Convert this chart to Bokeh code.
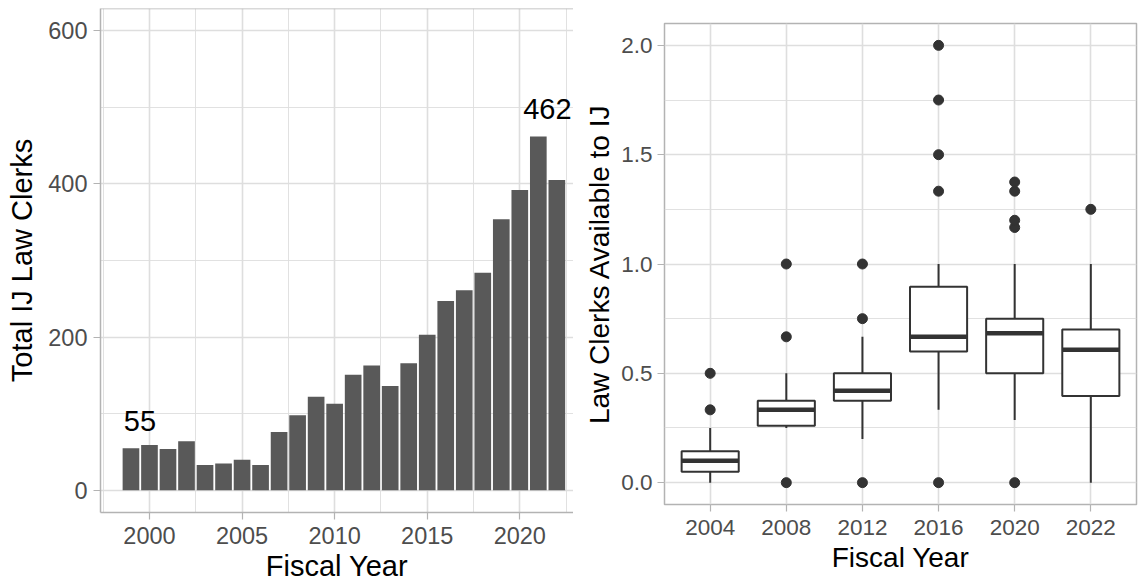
from bokeh.plotting import figure
from bokeh.layouts import row
from bokeh.models import Range1d, FixedTicker, Span
from bokeh.embed import file_html
from bokeh.resources import INLINE
from bokeh.core.properties import value

# Total immigration-judge law clerks per fiscal year
fiscal_years = list(range(1999, 2023))
total_clerks = [55, 59, 54, 64, 33, 35, 40, 33, 76, 98, 122, 113,
                151, 163, 136, 166, 203, 247, 261, 284, 354, 392, 462, 405]
labelled_years = [1999, 2021]

# Law clerks available to each IJ, summarised per fiscal year
box_years = ["2004", "2008", "2012", "2016", "2020", "2022"]
whisker_low = [0.0, 0.25, 0.2, 0.333, 0.286, 0.0]
q1 = [0.05, 0.26, 0.375, 0.6, 0.5, 0.396]
median = [0.1, 0.333, 0.42, 0.667, 0.683, 0.608]
q3 = [0.143, 0.375, 0.5, 0.896, 0.75, 0.7]
whisker_high = [0.25, 0.5, 0.667, 1.0, 1.0, 1.0]
outlier_years = ["2004", "2004",
                 "2008", "2008", "2008",
                 "2012", "2012", "2012",
                 "2016", "2016", "2016", "2016", "2016",
                 "2020", "2020", "2020", "2020", "2020",
                 "2022"]
outlier_values = [0.333, 0.5,
                  0.0, 0.667, 1.0,
                  0.0, 0.75, 1.0,
                  0.0, 1.333, 1.5, 1.75, 2.0,
                  0.0, 1.167, 1.2, 1.333, 1.375,
                  1.25]

FONT = "Liberation Sans"
GRID = "#dedede"
BORDER = "#b3b3b3"
TICK_TEXT = "#4d4d4d"
INK = "#333333"


def style_axes(fig, title_size, tick_size):
    for ax in fig.xaxis + fig.yaxis:
        ax.major_label_text_font = FONT
        ax.major_label_text_font_size = tick_size
        ax.major_label_text_color = TICK_TEXT
        ax.axis_label_text_font = FONT
        ax.axis_label_text_font_size = title_size
        ax.axis_label_text_font_style = "normal"
        ax.axis_label_text_color = "black"
        ax.major_tick_line_color = BORDER
        ax.major_tick_line_width = 1.2
        ax.major_tick_out = 7
        ax.major_tick_in = 0
        ax.minor_tick_line_color = None
    fig.grid.grid_line_color = GRID
    fig.grid.grid_line_width = 1.6
    fig.grid.minor_grid_line_color = GRID
    fig.grid.minor_grid_line_width = 0.9
    fig.background_fill_color = "white"
    fig.border_fill_color = "white"


# ---- left panel: bar chart of total clerks
left_y = Range1d(-29, 629)
left = figure(width=573, height=584,
              x_range=Range1d(1997.355, 2022.9), y_range=left_y,
              output_backend="svg", toolbar_location=None,
              min_border_left=100, min_border_right=0,
              min_border_top=8, min_border_bottom=70)
left.frame_align = False
left.outline_line_color = None

left.vbar(x=fiscal_years, top=total_clerks, width=0.9,
          fill_color="#595959", line_color=None)

label_values = [total_clerks[fiscal_years.index(y)] for y in labelled_years]
left.text(x=labelled_years, y=label_values, text=[str(v) for v in label_values],
          text_font=value(FONT), text_font_size="29px", text_color="black",
          text_align="center", text_baseline="alphabetic",
          x_offset=9, y_offset=-27)

left.xaxis.ticker = FixedTicker(ticks=[2000, 2005, 2010, 2015, 2020],
                                minor_ticks=[1997.5, 2002.5, 2007.5, 2012.5, 2017.5, 2022.5])
left.yaxis.ticker = FixedTicker(ticks=[0, 200, 400, 600], minor_ticks=[100, 300, 500])
left.xaxis.axis_label = "Fiscal Year"
left.yaxis.axis_label = "Total IJ Law Clerks"
style_axes(left, "29px", "23.5px")
for ax in left.xaxis + left.yaxis:
    ax.axis_line_color = BORDER
    ax.axis_line_width = 1.5
left.xaxis.major_label_standoff = 7
left.xaxis.axis_label_standoff = 3
left.yaxis.major_label_standoff = 6
left.yaxis.axis_label_standoff = 7

# top edge of the panel frame
left.add_layout(Span(location=left_y.end, dimension="width",
                     line_color=BORDER, line_width=1.5))

# ---- right panel: box plots of clerks per IJ
positions = list(range(1, len(box_years) + 1))
pos_of = dict(zip(box_years, positions))
box_width = 0.75

right = figure(width=565, height=584,
               x_range=Range1d(0.4, 6.6), y_range=Range1d(-0.1, 2.1),
               output_backend="svg", toolbar_location=None,
               min_border_left=91, min_border_right=2,
               min_border_top=23, min_border_bottom=80)
right.frame_align = False
right.outline_line_color = BORDER
right.outline_line_width = 1.5

right.segment(x0=positions, y0=q3, x1=positions, y1=whisker_high,
              line_color=INK, line_width=2)
right.segment(x0=positions, y0=whisker_low, x1=positions, y1=q1,
              line_color=INK, line_width=2)
right.vbar(x=positions, bottom=q1, top=q3, width=box_width,
           fill_color="white", line_color=INK, line_width=2)
right.segment(x0=[p - box_width / 2 for p in positions], y0=median,
              x1=[p + box_width / 2 for p in positions], y1=median,
              line_color=INK, line_width=4.5)
right.scatter(x=[pos_of[y] for y in outlier_years], y=outlier_values,
              size=10, fill_color=INK, line_color=INK)

right.xaxis.ticker = FixedTicker(ticks=positions)
right.xaxis.major_label_overrides = {p: y for p, y in zip(positions, box_years)}
right.yaxis.ticker = FixedTicker(ticks=[0, 0.5, 1.0, 1.5, 2.0],
                                 minor_ticks=[0.25, 0.75, 1.25, 1.75])
right.yaxis.major_label_overrides = {0: "0.0", 0.5: "0.5", 1: "1.0", 1.5: "1.5", 2: "2.0"}
right.xaxis.axis_label = "Fiscal Year"
right.yaxis.axis_label = "Law Clerks Available to IJ"
style_axes(right, "28px", "22.5px")
for ax in right.xaxis + right.yaxis:
    ax.axis_line_color = None
right.xaxis.major_label_standoff = 8
right.xaxis.axis_label_standoff = 4
right.yaxis.major_label_standoff = 5
right.yaxis.axis_label_standoff = 3

layout = row(left, right)
open("out.html", "w").write(file_html(layout, INLINE, title="IJ Law Clerks"))
